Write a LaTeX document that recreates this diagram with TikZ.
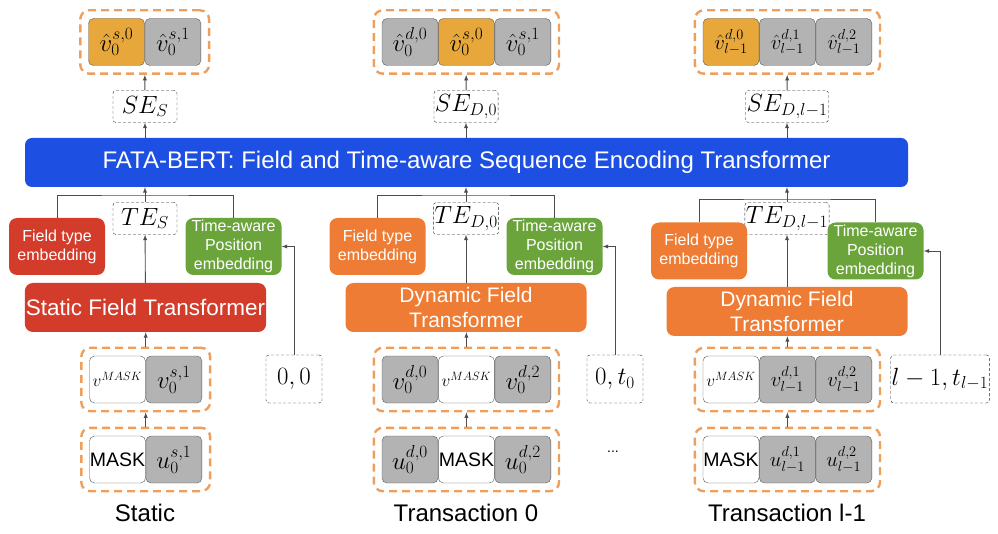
\documentclass[tikz,border=0pt]{standalone}
\usepackage[no-math]{fontspec}
\setmainfont{Liberation Sans}
\usetikzlibrary{positioning,fit}
\definecolor{hlorange}{HTML}{E8A73B}
\definecolor{cellgray}{HTML}{B3B3B3}
\definecolor{cellline}{HTML}{5A5A5A}
\definecolor{grpline}{HTML}{EE9F5E}
\definecolor{fred}{HTML}{D33B2A}
\definecolor{forange}{HTML}{EE7C34}
\definecolor{fgreen}{HTML}{6BA43B}
\definecolor{fblue}{HTML}{1E4FE3}

\begin{document}
\begin{tikzpicture}[x=1pt,y=-1pt,
  cell/.style={draw=cellline,fill=cellgray,rounded corners=5pt,minimum width=56pt,minimum height=47pt,inner sep=0pt,font=\fontsize{23}{26}\selectfont},
  hl/.style={cell,fill=hlorange},
  blank/.style={cell,fill=white},
  narrow/.style={font=\fontsize{22}{25}\selectfont},
  grp/.style={draw=grpline,line width=2.4pt,dash pattern=on 8pt off 5pt,rounded corners=9pt,inner sep=8pt},
  boxtag/.style={draw=black!85,densely dashed,thin,rounded corners=3pt,minimum height=32pt,minimum width=64pt,inner sep=1pt,font=\fontsize{23}{26}\selectfont},
  emb/.style={rounded corners=8pt,text=white,minimum width=96pt,minimum height=57pt,inner sep=1pt,align=center,font=\fontsize{16}{19}\selectfont},
  tf/.style={rounded corners=8pt,text=white,minimum width=241pt,minimum height=49pt,inner sep=1pt,align=center,font=\fontsize{21}{25}\selectfont},
  bert/.style={rounded corners=7pt,fill=fblue,text=white,minimum width=883pt,minimum height=49pt,inner sep=0pt,font=\fontsize{24}{28}\selectfont},
  colname/.style={font=\fontsize{24}{28}\selectfont},
  link/.style={draw=black!70,line width=0.9pt},
  arr/.style={link,-latex}
]
\useasboundingbox (0,0) rectangle (998,534);

% outputs
\node[hl] (os0) at (116.5,42) {$\hat{v}_0^{s,0}$};
\node[cell,right=0pt of os0] (os1) {$\hat{v}_0^{s,1}$};
\node[grp,fit=(os0)(os1)] (ogs) {};
\node[cell] (od0) at (410,42) {$\hat{v}_0^{d,0}$};
\node[hl,right=0pt of od0] (od1) {$\hat{v}_0^{s,0}$};
\node[cell,right=0pt of od1] (od2) {$\hat{v}_0^{s,1}$};
\node[grp,fit=(od0)(od2)] (ogd) {};
\node[hl,narrow] (ol0) at (731,42) {$\hat{v}_{l-1}^{d,0}$};
\node[cell,narrow,right=0pt of ol0] (ol1) {$\hat{v}_{l-1}^{d,1}$};
\node[cell,narrow,right=0pt of ol1] (ol2) {$\hat{v}_{l-1}^{d,2}$};
\node[grp,fit=(ol0)(ol2)] (ogl) {};

\node[boxtag] (ses) at (145,106.5) {$SE_S$};
\node[boxtag] (sed) at (466,106.5) {$SE_{D,0}$};
\node[boxtag] (sel) at (787,106.5) {$SE_{D,l-1}$};

\node[bert] (bert) at (466.5,162.5) {FATA-BERT: Field and Time-aware Sequence Encoding Transformer};

\node[boxtag] (tes) at (145,218.5) {$TE_S$};
\node[boxtag] (ted) at (466,218.5) {$TE_{D,0}$};
\node[boxtag] (tel) at (787,218.5) {$TE_{D,l-1}$};

% embeddings and field transformers
\node[emb,fill=fred] (fts) at (57,246.5) {Field type\\embedding};
\node[emb,fill=fgreen] (tps) at (233.5,246.5) {Time-aware\\Position\\embedding};
\node[tf,fill=fred,font=\fontsize{22.5}{26}\selectfont] (tfs) at (145.5,307.5) {Static Field Transformer};
\node[emb,fill=forange] (ftd) at (377.5,246.5) {Field type\\embedding};
\node[emb,fill=fgreen] (tpd) at (554.5,246.5) {Time-aware\\Position\\embedding};
\node[tf,fill=forange] (tfd) at (466,307.5) {Dynamic Field\\Transformer};
\node[emb,fill=forange] (ftl) at (699,251) {Field type\\embedding};
\node[emb,fill=fgreen] (tpl) at (875.5,251) {Time-aware\\Position\\embedding};
\node[tf,fill=forange] (tfl) at (787,311.5) {Dynamic Field\\Transformer};

% inputs
\node[blank,font=\fontsize{18}{20}\selectfont] (vs0) at (117.5,379.5) {$v^{MASK}$};
\node[cell,right=0pt of vs0] (vs1) {$v_0^{s,1}$};
\node[grp,fit=(vs0)(vs1)] (vgs) {};
\node[blank,font=\fontsize{19.5}{22}\selectfont] (us0) at (117.5,459.5) {MASK};
\node[cell,right=0pt of us0] (us1) {$u_0^{s,1}$};
\node[grp,fit=(us0)(us1)] (ugs) {};

\node[cell] (vd0) at (410,379.5) {$v_0^{d,0}$};
\node[blank,right=0pt of vd0,font=\fontsize{18}{20}\selectfont] (vd1) {$v^{MASK}$};
\node[cell,right=0pt of vd1] (vd2) {$v_0^{d,2}$};
\node[grp,fit=(vd0)(vd2)] (vgd) {};
\node[cell] (ud0) at (410,459.5) {$u_0^{d,0}$};
\node[blank,right=0pt of ud0,font=\fontsize{19.5}{22}\selectfont] (ud1) {MASK};
\node[cell,right=0pt of ud1] (ud2) {$u_0^{d,2}$};
\node[grp,fit=(ud0)(ud2)] (ugd) {};

\node[blank,font=\fontsize{18}{20}\selectfont] (vl0) at (731,379.5) {$v^{MASK}$};
\node[cell,narrow,right=0pt of vl0] (vl1) {$v_{l-1}^{d,1}$};
\node[cell,narrow,right=0pt of vl1] (vl2) {$v_{l-1}^{d,2}$};
\node[grp,fit=(vl0)(vl2)] (vgl) {};
\node[blank,font=\fontsize{19.5}{22}\selectfont] (ul0) at (731,459.5) {MASK};
\node[cell,narrow,right=0pt of ul0] (ul1) {$u_{l-1}^{d,1}$};
\node[cell,narrow,right=0pt of ul1] (ul2) {$u_{l-1}^{d,2}$};
\node[grp,fit=(ul0)(ul2)] (ugl) {};

\node[boxtag,minimum width=56pt,minimum height=48pt] (ps) at (294,379) {$0,0$};
\node[boxtag,minimum width=56pt,minimum height=48pt] (pd) at (615,379) {$0,t_0$};
\node[boxtag,minimum width=96pt,minimum height=48pt] (pl) at (940,379) {$l-1,t_{l-1}$};
\node[font=\fontsize{14}{16}\selectfont] (dots) at (613,452) {...};

\node[colname] (ls) at (145,513) {Static};
\node[colname] (ld) at (466,513) {Transaction 0};
\node[colname] (ll) at (787,513) {Transaction l-1};

\coordinate (js) at (145,195);
\coordinate (jd) at (466,195);
\coordinate (jl) at (787,199);

\foreach \c in {s,d,l} {
  \draw[arr] (se\c) -- (og\c);
  \draw[arr] (se\c |- bert.north) -- (se\c);
  \draw[link] (ft\c.north) |- (j\c) -| (tp\c.north);
  \draw[arr] (te\c) -- (te\c |- bert.south);
  \draw[arr] (tf\c) -- (te\c);
  \draw[arr] (p\c) |- (tp\c.east);
  \draw[arr] (vg\c) -- (vg\c |- tf\c.south);
  \draw[arr] (ug\c) -- (vg\c);
}
\end{tikzpicture}
\end{document}
